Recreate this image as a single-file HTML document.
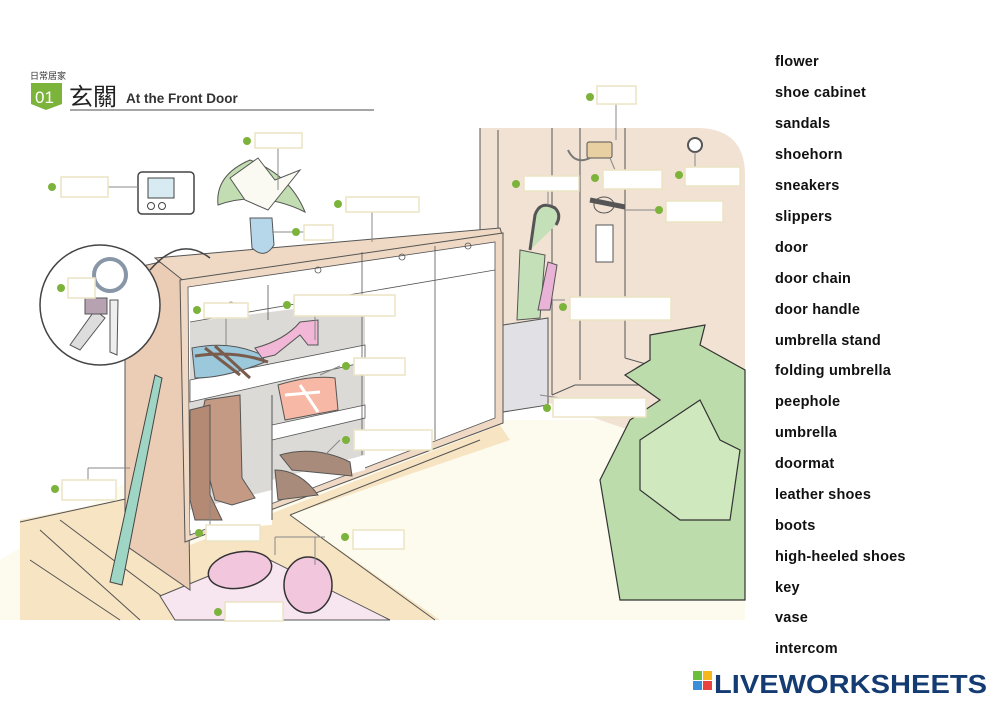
<!DOCTYPE html>
<html><head><meta charset="utf-8"><style>
html,body{margin:0;padding:0;background:#fff;}
body{width:1000px;height:707px;position:relative;overflow:hidden;font-family:"Liberation Sans",sans-serif;}
.w{position:absolute;left:775px;font-weight:bold;font-size:14.5px;color:#111;letter-spacing:0.2px;}
</style></head><body>
<svg width="1000" height="707" viewBox="0 0 1000 707" style="position:absolute;left:0;top:0">
<!-- header -->
<text x="30" y="79" font-size="9" font-family="Noto Sans CJK TC,sans-serif" fill="#333">日常居家</text>
<polygon points="31,83 62,83 62,104 46,110 31,104" fill="#7cb33a"/>
<text x="35" y="103" font-size="17" fill="#fff" font-family="Liberation Sans,sans-serif">01</text>
<text x="69" y="105" font-size="24" font-family="Noto Sans CJK TC,sans-serif" fill="#222">玄關</text>
<text x="126" y="103" font-size="13.5" font-weight="bold" fill="#333" font-family="Liberation Sans,sans-serif">At the Front Door</text>
<line x1="70" y1="110" x2="374" y2="110" stroke="#888" stroke-width="1.5"/>

<!-- back wall -->
<path d="M480,128 L700,128 Q745,130 745,175 L745,600 L600,600 L600,420 L480,380 Z" fill="#f1e2d3"/>
<g stroke="#555" stroke-width="1" fill="none">
<line x1="480" y1="128" x2="480" y2="380"/><line x1="498" y1="130" x2="498" y2="390"/>
<line x1="552" y1="128" x2="552" y2="395"/><line x1="580" y1="128" x2="580" y2="380"/>
<line x1="625" y1="128" x2="625" y2="358"/><line x1="625" y1="358" x2="660" y2="368"/>
<path d="M552,395 L575,385 L650,385"/>
</g>
<!-- floor -->
<path d="M0,620 L0,560 L130,480 L500,420 L600,420 L745,470 L745,620 Z" fill="#fdfbee"/>
<path d="M20,520 L130,498 L190,545 L500,425 L510,440 L290,515 L440,620 L20,620 Z" fill="#f7e4c2"/>
<g stroke="#555" stroke-width="1" fill="none">
<line x1="290" y1="515" x2="435" y2="620"/><line x1="20" y1="522" x2="130" y2="498"/>
<line x1="30" y1="560" x2="120" y2="620"/><line x1="40" y1="530" x2="140" y2="620"/><line x1="60" y1="520" x2="180" y2="610"/>
<line x1="480" y1="440" x2="290" y2="515"/>
</g>
<!-- doormat -->
<polygon points="160,596 260,555 390,620 175,620" fill="#f7e6ef" stroke="#555" stroke-width="1"/>

<!-- cabinet side -->
<polygon points="125,270 160,262 185,280 190,590 125,545" fill="#ebcdb5" stroke="#555" stroke-width="1"/>
<!-- cabinet top -->
<polygon points="155,258 500,228 503,238 185,282" fill="#efd9c4" stroke="#555" stroke-width="1"/>
<!-- cabinet front -->
<polygon points="180,280 503,233 503,423 185,542" fill="#efd9c4" stroke="#555" stroke-width="1"/>
<polygon points="188,287 495,242 495,418 190,535" fill="#fff" stroke="#555" stroke-width="0.8"/>
<!-- shelves interior -->
<polygon points="190,322 365,300 365,455 190,530" fill="#dcdad6"/>
<polygon points="190,380 365,345 365,362 190,402" fill="#fff" stroke="#555" stroke-width="0.8"/>
<polygon points="272,425 365,405 365,418 272,440" fill="#fff" stroke="#555" stroke-width="0.8"/>
<polygon points="190,510 272,490 272,525 190,530" fill="#fff"/>
<polygon points="272,495 365,470 365,455 272,480" fill="#fff"/>
<line x1="272" y1="395" x2="272" y2="520" stroke="#555"/>
<g stroke="#555" stroke-width="0.8" fill="none">
<line x1="268" y1="285" x2="268" y2="320"/><line x1="362" y1="252" x2="362" y2="455"/>
<line x1="435" y1="246" x2="435" y2="440"/><line x1="190" y1="322" x2="495" y2="270"/>
<circle cx="231" cy="305" r="3"/><circle cx="318" cy="270" r="3"/><circle cx="402" cy="257" r="3"/><circle cx="468" cy="246" r="3"/>
</g>
<!-- shoes -->
<path d="M192,348 Q230,340 262,355 L265,362 Q225,378 195,378 Z" fill="#9cc8dc" stroke="#555"/>
<path d="M195,356 Q235,350 268,362 M205,348 L240,375 M215,346 L250,378" stroke="#7a5c4c" stroke-width="3" fill="none"/>
<path d="M255,348 Q285,340 300,322 L318,320 L318,345 L308,345 L300,335 L275,355 L262,358 Z" fill="#f2b6d6" stroke="#555"/>
<path d="M278,385 Q310,375 335,378 L338,410 L285,420 Z" fill="#f7b8a5" stroke="#555"/>
<path d="M285,395 L320,392 M300,385 L318,412" stroke="#fff" stroke-width="3"/>
<path d="M205,400 L240,395 L242,478 L255,498 L232,505 L215,500 L210,480 L190,475 Z" fill="#c49a85" stroke="#555"/>
<path d="M190,410 L210,405 L210,495 L222,520 L195,520 L190,500 Z" fill="#b58a74" stroke="#555"/>
<path d="M280,455 Q315,445 350,462 L352,476 L292,470 Z" fill="#a88b7a" stroke="#555"/>
<path d="M275,470 Q300,470 318,495 L278,500 Z" fill="#a88b7a" stroke="#555"/>
<!-- slippers -->
<ellipse cx="240" cy="570" rx="32" ry="18" fill="#f2c6dd" stroke="#333" stroke-width="1.5" transform="rotate(-10 240 570)"/>
<ellipse cx="308" cy="585" rx="24" ry="28" fill="#f2c6dd" stroke="#333" stroke-width="1.5"/>
<!-- shoehorn -->
<path d="M155,375 L162,378 L122,585 L110,582 Z" fill="#9fd5c4" stroke="#444"/>
<!-- keys circle -->
<circle cx="100" cy="305" r="60" fill="#fff" stroke="#444" stroke-width="1.5"/>
<path d="M150,270 Q180,235 210,258" stroke="#444" fill="none" stroke-width="1.5"/>
<circle cx="110" cy="275" r="16" fill="none" stroke="#8896a8" stroke-width="4"/>
<path d="M70,345 L95,310 L105,318 L80,350 Z" fill="#ddd" stroke="#555"/>
<rect x="85" y="298" width="22" height="16" fill="#b7a2b2" stroke="#555"/>
<path d="M110,300 L118,300 L117,355 L110,352 Z" fill="#eee" stroke="#555"/>
<!-- vase & flowers -->
<path d="M250,218 L272,218 L274,245 Q265,260 252,248 Z" fill="#b6d7ea" stroke="#555"/>
<path d="M218,205 Q260,190 305,212 Q290,175 250,160 Q215,175 218,205 Z" fill="#c2ddb2" stroke="#555"/>
<path d="M230,178 L258,158 L275,180 L300,170 L280,195 L268,210 L245,200 Z" fill="#fafaf2" stroke="#555"/>
<!-- intercom -->
<rect x="138" y="172" width="56" height="42" rx="4" fill="#fff" stroke="#444" stroke-width="1.5"/>
<rect x="148" y="178" width="26" height="20" fill="#d8eaf2" stroke="#444"/>
<circle cx="151" cy="206" r="3.5" fill="none" stroke="#444"/><circle cx="162" cy="206" r="3.5" fill="none" stroke="#444"/>
<!-- umbrella stand -->
<polygon points="503,325 548,318 548,405 503,412" fill="#e1e1e5" stroke="#555"/>
<path d="M517,320 L520,250 L545,255 L540,318 Z" fill="#c4e0b8" stroke="#555"/>
<path d="M530,250 L535,215 Q540,200 555,208 Q562,215 556,225" stroke="#555" fill="#c4e0b8" stroke-width="3"/>
<path d="M538,310 L548,262 L557,265 L550,310 Z" fill="#e9b3d7" stroke="#555"/>
<!-- door items -->
<rect x="587" y="142" width="25" height="16" rx="2" fill="#e9d0a2" stroke="#555"/>
<path d="M568,150 Q575,165 590,158" stroke="#777" fill="none" stroke-width="2"/>
<path d="M590,200 L625,207" stroke="#555" stroke-width="5"/>
<ellipse cx="604" cy="205" rx="10" ry="8" fill="none" stroke="#555"/>
<rect x="596" y="225" width="17" height="37" fill="#fff" stroke="#555"/>
<circle cx="695" cy="145" r="7" fill="#fff" stroke="#555" stroke-width="2"/>
<!-- plant -->
<path d="M650,335 L705,325 L700,345 L745,370 L745,600 L620,600 L600,480 L630,420 L660,400 L625,375 L650,360 Z" fill="#bcdcab" stroke="#333" stroke-width="1.2"/>
<path d="M640,440 L700,400 L720,440 L740,450 L730,520 L680,520 L640,490 Z" fill="#cfe8bd" stroke="#333" stroke-width="1.2"/>
<!-- connectors -->
<g stroke="#888" stroke-width="1" fill="none">
<line x1="108" y1="187" x2="138" y2="187"/><line x1="278" y1="148" x2="278" y2="190"/>
<line x1="333" y1="232" x2="272" y2="232"/><line x1="372" y1="212" x2="372" y2="242"/>
<line x1="226" y1="318" x2="226" y2="345"/><line x1="315" y1="316" x2="315" y2="340"/>
<line x1="88" y1="480" x2="88" y2="468"/><line x1="88" y1="468" x2="130" y2="468"/>
<line x1="210" y1="525" x2="210" y2="500"/><line x1="325" y1="537" x2="275" y2="537"/><line x1="275" y1="537" x2="275" y2="555"/><line x1="315" y1="537" x2="315" y2="565"/>
<line x1="616" y1="104" x2="616" y2="140"/><line x1="548" y1="191" x2="548" y2="205"/><line x1="610" y1="158" x2="615" y2="170"/>
<line x1="695" y1="152" x2="695" y2="167"/><line x1="625" y1="210" x2="659" y2="210"/><line x1="552" y1="300" x2="565" y2="300"/>
<line x1="540" y1="395" x2="560" y2="398"/><line x1="340" y1="366" x2="320" y2="375"/><line x1="340" y1="440" x2="325" y2="455"/>
</g>
<!-- label boxes -->
<g fill="#fff" stroke="#ece4c4" stroke-width="1.5">
<rect x="61" y="177" width="47" height="20"/><rect x="255" y="133" width="47" height="15"/><rect x="304" y="225" width="29" height="15"/>
<rect x="346" y="197" width="73" height="15"/><rect x="68" y="278" width="27" height="20"/><rect x="204" y="303" width="44" height="15"/>
<rect x="294" y="295" width="101" height="21"/><rect x="62" y="480" width="54" height="20"/><rect x="206" y="525" width="54" height="16"/>
<rect x="354" y="358" width="51" height="17"/><rect x="354" y="430" width="78" height="20"/><rect x="353" y="530" width="51" height="19"/>
<rect x="225" y="602" width="58" height="19"/><rect x="597" y="86" width="39" height="18"/><rect x="524" y="176" width="55" height="15"/>
<rect x="603" y="170" width="59" height="19"/><rect x="685" y="167" width="55" height="19"/><rect x="666" y="201" width="57" height="21"/>
<rect x="570" y="297" width="101" height="23"/><rect x="553" y="398" width="93" height="19"/>
</g>
<g fill="#7cb33a">
<circle cx="52" cy="187" r="4"/><circle cx="247" cy="141" r="4"/><circle cx="296" cy="232" r="4"/><circle cx="338" cy="204" r="4"/>
<circle cx="61" cy="288" r="4"/><circle cx="197" cy="310" r="4"/><circle cx="287" cy="305" r="4"/><circle cx="55" cy="489" r="4"/>
<circle cx="199" cy="533" r="4"/><circle cx="346" cy="366" r="4"/><circle cx="346" cy="440" r="4"/><circle cx="345" cy="537" r="4"/>
<circle cx="218" cy="612" r="4"/><circle cx="590" cy="97" r="4"/><circle cx="516" cy="184" r="4"/><circle cx="595" cy="178" r="4"/>
<circle cx="679" cy="175" r="4"/><circle cx="659" cy="210" r="4"/><circle cx="563" cy="307" r="4"/><circle cx="547" cy="408" r="4"/>
</g>
<!-- logo -->
<rect x="693" y="671" width="9" height="9" fill="#6cbf3c"/><rect x="703" y="671" width="9" height="9" fill="#f6b71d"/>
<rect x="693" y="681" width="9" height="9" fill="#3b8fd9"/><rect x="703" y="681" width="9" height="9" fill="#e8433c"/>
<text x="714" y="693" font-size="26" font-weight="bold" fill="#143c72" font-family="Liberation Sans,sans-serif" textLength="273" lengthAdjust="spacingAndGlyphs">LIVEWORKSHEETS</text>
</svg>
<div class="w" style="top:54px">flower</div>
<div class="w" style="top:85px">shoe cabinet</div>
<div class="w" style="top:116px">sandals</div>
<div class="w" style="top:147px">shoehorn</div>
<div class="w" style="top:178px">sneakers</div>
<div class="w" style="top:209px">slippers</div>
<div class="w" style="top:240px">door</div>
<div class="w" style="top:271px">door chain</div>
<div class="w" style="top:302px">door handle</div>
<div class="w" style="top:333px">umbrella stand</div>
<div class="w" style="top:363px">folding umbrella</div>
<div class="w" style="top:394px">peephole</div>
<div class="w" style="top:425px">umbrella</div>
<div class="w" style="top:456px">doormat</div>
<div class="w" style="top:487px">leather shoes</div>
<div class="w" style="top:518px">boots</div>
<div class="w" style="top:549px">high-heeled shoes</div>
<div class="w" style="top:580px">key</div>
<div class="w" style="top:610px">vase</div>
<div class="w" style="top:641px">intercom</div>
</body></html>
